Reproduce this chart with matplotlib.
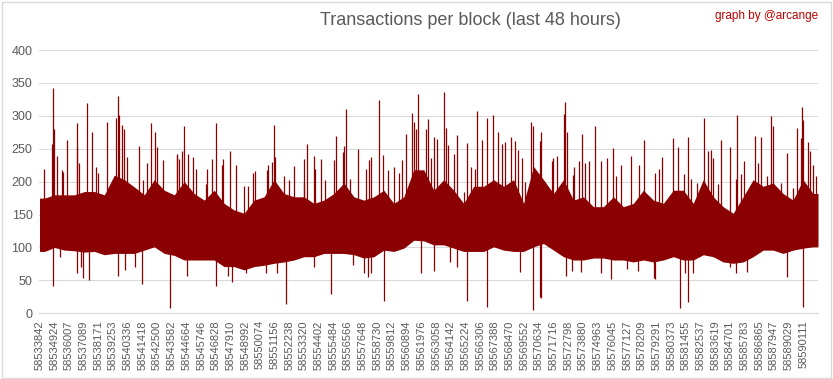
import numpy as np
import matplotlib.pyplot as plt
from matplotlib.patches import Rectangle

# block range shown (last 48 hours)
START = 58533842
N_BLOCKS = 57345

tick_labels = ['58533842', '58534924', '58536007', '58537089', '58538171', '58539253',
               '58540336', '58541418', '58542500', '58543582', '58544664', '58545746',
               '58546828', '58547910', '58548992', '58550074', '58551156', '58552238',
               '58553320', '58554402', '58555484', '58556566', '58557648', '58558730',
               '58559812', '58560894', '58561976', '58563058', '58564142', '58565224',
               '58566306', '58567388', '58568470', '58569552', '58570634', '58571716',
               '58572798', '58573880', '58574963', '58576045', '58577127', '58578209',
               '58579291', '58580373', '58581455', '58582537', '58583619', '58584701',
               '58585783', '58586865', '58587947', '58589029', '58590111']

# dense body of the series, read per equal slice of the block range
band_hi = [175, 180, 180, 180, 185, 185, 180, 210, 203, 192, 180, 203, 187, 180, 200, 182,
           172, 187, 167, 157, 152, 172, 177, 203, 182, 177, 177, 167, 172, 182, 198, 177,
           172, 177, 187, 167, 177, 218, 218, 187, 203, 187, 167, 193, 193, 203, 193, 203,
           167, 223, 203, 182, 203, 172, 177, 162, 162, 177, 162, 167, 187, 172, 167, 187,
           187, 167, 203, 177, 162, 152, 177, 203, 193, 198, 182, 172, 203, 182]
band_lo = [94, 100, 96, 95, 93, 94, 89, 91, 91, 91, 96, 101, 91, 88, 81, 81,
           81, 81, 71, 71, 66, 71, 73, 76, 78, 81, 86, 86, 91, 91, 91, 89,
           84, 86, 96, 94, 99, 111, 110, 104, 104, 99, 94, 94, 94, 101, 96, 94,
           94, 101, 106, 96, 86, 81, 81, 84, 84, 81, 81, 78, 81, 78, 81, 86,
           81, 81, 89, 86, 78, 76, 78, 86, 96, 96, 91, 96, 99, 101]

# tall single blocks (offset from START, transactions)
peak_off = [331, 1017, 899, 1090, 1267, 1635, 1709, 2004, 2740, 2784, 2932, 3477, 3889,
            4162, 4331, 4994, 5635, 5804, 5856, 6055, 6224, 6423, 7351, 7602, 7896, 8191,
            8508, 8633, 9075, 10150, 10298, 10106, 10474, 10666, 10961, 11329, 11506,
            12242, 12360, 12728, 13023, 13465, 13539, 14054, 14496, 15086, 15336, 15749,
            15874, 16735, 16853, 17104, 17296, 17347, 18010, 18400, 18769, 19461, 19483,
            19726, 20242, 20315, 20713, 21052, 21715, 21862, 22378, 22452, 22599, 22872,
            23483, 24028, 24293, 24418, 25030, 25324, 25693, 26135, 26480, 26724, 27018,
            27416, 27563, 27711, 27902, 28470, 28639, 28838, 29081, 29302, 29818, 29921,
            30112, 30554, 30775, 31269, 31512, 31762, 32079, 32248, 32617, 32985, 33427,
            33795, 34090, 34311, 34708, 35025, 35224, 35519, 35762, 36204, 36329, 36867,
            36941, 37729, 37847, 38141, 38657, 38708, 38878, 39276, 39372, 39762, 39983,
            40182, 40499, 40940, 41360, 41824, 42266, 42443, 42833, 43570, 44181, 44550,
            45360, 45610, 45876, 46686, 47054, 47496, 47791, 47989, 48453, 48969, 49264,
            49463, 49588, 50000, 50199, 50862, 51282, 51400, 51650, 51916, 52726, 52947,
            53146, 53566, 53860, 54052, 54619, 55084, 55481, 55776, 56093, 56188, 56261,
            56630, 56755, 56998, 57197]
peak_val = [220, 342, 257, 280, 239, 218, 215, 264, 289, 253, 228, 319, 275,
            222, 213, 291, 296, 330, 301, 286, 280, 238, 254, 203, 228, 289,
            275, 253, 233, 242, 235, 241, 246, 284, 242, 237, 219,
            196, 219, 234, 289, 225, 234, 247, 226, 194, 194, 213,
            216, 218, 226, 230, 286, 238, 209, 202, 224, 234, 200,
            257, 239, 219, 234, 203, 233, 270, 245, 254, 310, 204,
            250, 219, 233, 238, 324, 241, 218, 222, 213, 233, 272,
            304, 291, 280, 333, 280, 295, 236, 268, 265, 336, 281,
            256, 242, 271, 185, 259, 222, 219, 307, 264, 296, 301,
            276, 257, 260, 268, 262, 248, 236, 199, 290, 285, 262,
            276, 231, 236, 239, 303, 321, 276, 210, 222, 232, 273,
            228, 232, 285, 232, 236, 251, 208, 225, 239, 225, 264,
            213, 219, 238, 266, 253, 211, 268, 204, 198, 297, 246,
            248, 236, 196, 264, 252, 204, 301, 211, 232, 270, 228,
            268, 208, 300, 285, 198, 243, 190, 281, 266, 313, 294,
            261, 246, 225, 208]

# low single blocks
dip_off = [1017, 1510, 2740, 3035, 3182, 3668, 5804, 6298, 7034, 7572, 9613, 10887,
           13023, 13907, 14201, 15211, 16684, 17494, 18179, 20220, 21494, 23115, 23925,
           24220, 24418, 25398, 28079, 29081, 30238, 30775, 31512, 32985, 35393, 36373,
           36867, 36941, 38782, 39246, 39887, 41360, 42096, 43253, 44108, 45264, 45360,
           47202, 47548, 47791, 48159, 50862, 51282, 52092, 55084, 56261]
dip_val = [41, 86, 61, 71, 54, 51, 56, 66, 71, 45, 8, 57,
           42, 56, 47, 62, 62, 62, 14, 70, 30, 74, 61,
           55, 62, 19, 61, 65, 78, 71, 18, 10, 63, 5,
           25, 24, 56, 65, 63, 62, 52, 68, 65, 53, 52,
           8, 61, 17, 61, 71, 61, 63, 55, 10]

RED = '#8B0000'
GREY = '#595959'

fig = plt.figure(figsize=(8.33, 3.79), dpi=100)
ax = fig.add_axes([0.0474, 0.1733, 0.9346, 0.6947])

# body drawn through the slice centres, held flat to both ends of the range
edges = START + np.linspace(0, N_BLOCKS, len(band_hi) + 1)
centres = (edges[:-1] + edges[1:]) / 2
xs = np.r_[edges[0], centres, edges[-1]]
lo = np.r_[band_lo[0], band_lo, band_lo[-1]]
hi = np.r_[band_hi[0], band_hi, band_hi[-1]]
ax.fill_between(xs, lo, hi, color=RED, linewidth=0, zorder=3)
ax.vlines(START + np.array(peak_off), 120, peak_val, color=RED, linewidth=0.9, zorder=3)
ax.vlines(START + np.array(dip_off), dip_val, 120, color=RED, linewidth=0.9, zorder=3)

ax.set_xlim(START - 0.5, START + N_BLOCKS - 0.5)
ax.set_ylim(0, 400)
ax.set_yticks(range(0, 401, 50))
ax.set_xticks([int(t) for t in tick_labels])
ax.set_xticklabels(tick_labels, rotation=90, fontsize=8, color=GREY, family='Liberation Sans')
for lab in ax.get_yticklabels():
    lab.set_fontsize(9)
    lab.set_color(GREY)
    lab.set_family('Liberation Sans')
ax.tick_params(length=0, pad=5)
ax.grid(axis='y', color='#D9D9D9', linewidth=0.75, zorder=0)
ax.set_axisbelow(True)
for side in ['top', 'right', 'left']:
    ax.spines[side].set_visible(False)
ax.spines['bottom'].set_color('#D9D9D9')
ax.spines['bottom'].set_zorder(4)

fig.text(0.565, 0.947, 'Transactions per block (last 48 hours)', ha='center', va='center',
         fontsize=13, color=GREY, family='Liberation Sans')
fig.text(0.982, 0.957, 'graph by @arcange', ha='right', va='center', fontsize=8.5,
         color='#C00000', family='Liberation Sans')
fig.add_artist(Rectangle((0.002, 0.003), 0.995, 0.993, transform=fig.transFigure,
                         fill=False, edgecolor='#D9D9D9', linewidth=1))

plt.savefig('out.png', dpi=100)
